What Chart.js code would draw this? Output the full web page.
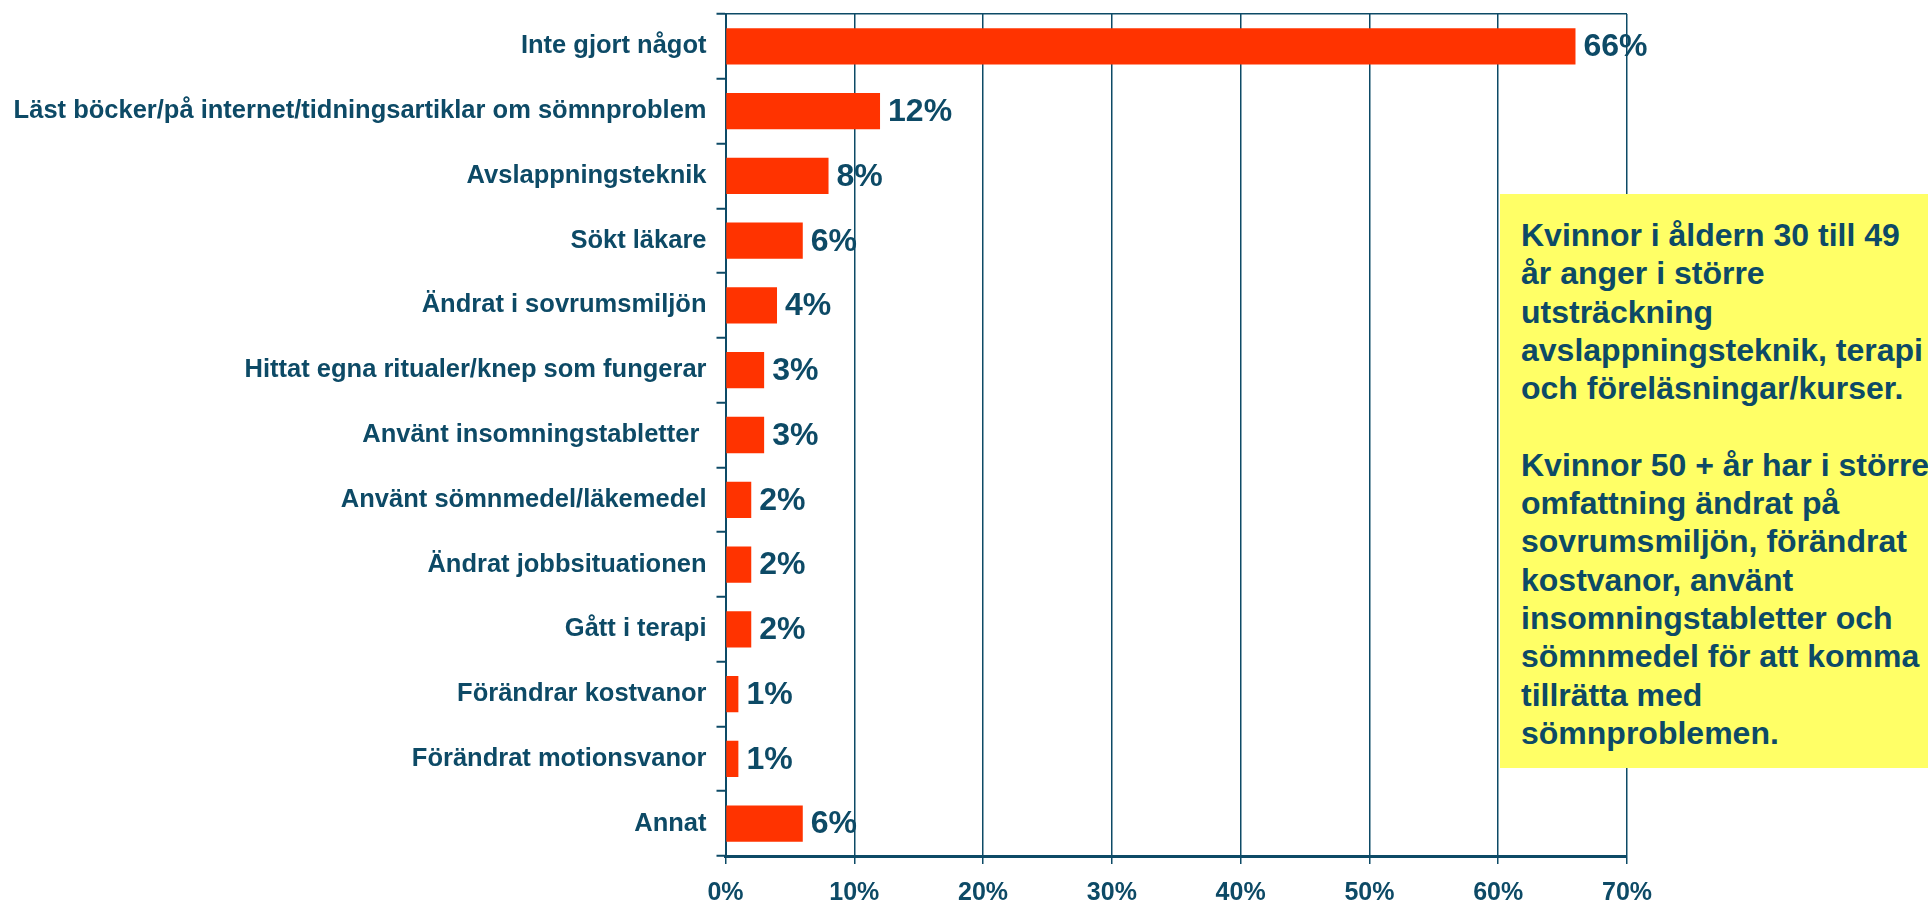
<!DOCTYPE html>
<html>
<head>
<meta charset="utf-8">
<script src="https://cdn.jsdelivr.net/npm/chart.js@4"></script>
<style>
  html, body { margin: 0; padding: 0; background: #ffffff; overflow: hidden; }
  #wrap { position: relative; width: 1928px; height: 904px; }
  #note {
    position: absolute; left: 1500px; top: 194px; width: 520px; height: 574px;
    background: #ffff66; box-sizing: border-box; padding: 22px 0 0 21px;
    font-family: "Liberation Sans", Arial, sans-serif; font-weight: bold;
    font-size: 32px; line-height: 38.3px; color: #0d4a66; white-space: nowrap;
  }
</style>
</head>
<body>
<div id="wrap">
  <canvas id="c" width="1928" height="904"></canvas>
  <div id="note">Kvinnor i åldern 30 till 49<br>år anger i större<br>utsträckning<br>avslappningsteknik, terapi<br>och föreläsningar/kurser.<br><br>Kvinnor 50 + år har i större<br>omfattning ändrat på<br>sovrumsmiljön, förändrat<br>kostvanor, använt<br>insomningstabletter och<br>sömnmedel för att komma<br>tillrätta med<br>sömnproblemen.</div>
</div>
<script>
const categories = [
  "Inte gjort något",
  "Läst böcker/på internet/tidningsartiklar om sömnproblem",
  "Avslappningsteknik",
  "Sökt läkare",
  "Ändrat i sovrumsmiljön",
  "Hittat egna ritualer/knep som fungerar",
  "Använt insomningstabletter ",
  "Använt sömnmedel/läkemedel",
  "Ändrat jobbsituationen",
  "Gått i terapi",
  "Förändrar kostvanor",
  "Förändrat motionsvanor",
  "Annat"
];
const values = [66, 12, 8, 6, 4, 3, 3, 2, 2, 2, 1, 1, 6];
const xTicks = [0, 10, 20, 30, 40, 50, 60, 70];

const TEAL = "#0d4a66";
const FONT = "'Liberation Sans', Arial, sans-serif";

const valueLabels = {
  id: "valueLabels",
  afterDatasetsDraw(chart) {
    const ctx = chart.ctx;
    const meta = chart.getDatasetMeta(0);
    const xs = chart.scales.x;
    ctx.save();
    ctx.fillStyle = TEAL;
    ctx.font = "bold 32px " + FONT;
    ctx.textAlign = "left";
    ctx.textBaseline = "middle";
    meta.data.forEach((bar, i) => {
      const x = xs.getPixelForValue(values[i]) + 8;
      ctx.fillText(values[i] + "%", x, bar.y + 1);
    });
    ctx.restore();
  }
};

new Chart(document.getElementById("c"), {
  type: "bar",
  data: {
    labels: categories,
    datasets: [{
      data: values,
      backgroundColor: "#ff3300",
      borderWidth: 0,
      barPercentage: 0.56,
      categoryPercentage: 1.0
    }]
  },
  options: {
    indexAxis: "y",
    responsive: false,
    animation: false,
    events: [],
    layout: { padding: { top: 14, right: 301, left: 0, bottom: 0 } },
    plugins: { legend: { display: false }, tooltip: { enabled: false } },
    scales: {
      x: {
        min: 0, max: 70,
        afterBuildTicks(scale) { scale.ticks = xTicks.map(v => ({ value: v })); },
        afterFit(scale) { scale.height = 48; scale.paddingLeft = 0; scale.paddingRight = 0; },
        grid: {
          color: TEAL, lineWidth: 1.5, tickLength: 8, tickColor: TEAL, tickWidth: 1.5
        },
        border: { display: true, color: TEAL, width: 3 },
        ticks: {
          color: TEAL,
          font: { family: FONT, size: 25, weight: "bold" },
          padding: 14,
          maxRotation: 0,
          callback: v => v + "%"
        }
      },
      y: {
        afterFit(scale) { scale.width = 725.5; scale.paddingTop = 0; scale.paddingBottom = 0; },
        grid: {
          offset: true,
          drawOnChartArea: true,
          color: c => (c.index === 0 ? TEAL : "rgba(0,0,0,0)"),
          lineWidth: 1.5,
          tickLength: 9,
          tickColor: TEAL,
          tickWidth: 2
        },
        border: { display: true, color: TEAL, width: 2 },
        ticks: {
          color: TEAL,
          font: { family: FONT, size: 25.5, weight: "bold" },
          padding: 10,
          autoSkip: false
        }
      }
    }
  },
  plugins: [valueLabels]
});
</script>
</body>
</html>
